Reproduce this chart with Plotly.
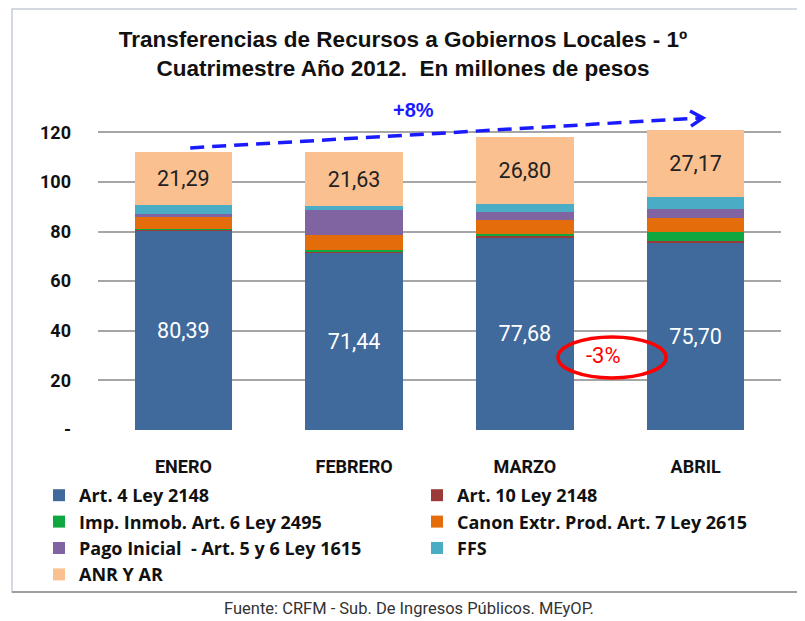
import plotly.graph_objects as go

# ---- data ----
months = ["ENERO", "FEBRERO", "MARZO", "ABRIL"]
art4 = [80.39, 71.44, 77.68, 75.70]
art10 = [0.3, 0.6, 0.7, 0.6]
imp_inmob = [0.5, 0.7, 0.5, 3.4]
canon = [4.7, 5.8, 5.8, 5.9]
pago_inicial = [1.2, 10.0, 3.1, 3.4]
ffs = [3.5, 1.7, 3.4, 4.8]
anr = [21.29, 21.63, 26.80, 27.17]

series_names = ["Art. 4 Ley 2148", "Art. 10 Ley 2148", "Imp. Inmob. Art. 6 Ley 2495",
                "Canon Extr. Prod. Art. 7 Ley 2615", "Pago Inicial  - Art. 5 y 6 Ley 1615",
                "FFS", "ANR Y AR"]
series_values = [art4, art10, imp_inmob, canon, pago_inicial, ffs, anr]
series_colors = ["#40699c", "#9b3b39", "#0fa840", "#e46c0a", "#8064a2", "#4bacc6", "#fac090"]
labelled = {0: "#ffffff", 6: "#222222"}

ytick_vals = [0, 20, 40, 60, 80, 100, 120]
ytick_text = ["-", "20", "40", "60", "80", "100", "120"]

# trend arrow (+8%) and ellipse (-3%) anchors, in axis units
trend_start = (0.04, 113.7)
trend_end = (3.03, 125.8)

SANS = "Roboto, Lato, sans-serif"
WIDE = "Open Sans, Noto Sans, sans-serif"
ARIAL = "Liberation Sans, Arial, sans-serif"

fig = go.Figure()
for i, (name, vals, col) in enumerate(zip(series_names, series_values, series_colors)):
    kw = {}
    if i in labelled:
        kw = dict(texttemplate="%{y:.2f}", textposition="inside", insidetextanchor="middle",
                  textangle=0, constraintext="none",
                  insidetextfont=dict(family=SANS, size=21.5, color=labelled[i]))
    fig.add_trace(go.Bar(x=months, y=vals, name=name, marker=dict(color=col, line=dict(width=0)),
                         hoverinfo="skip", **kw))

OFF = 8  # page body margin
W, H = 805 - OFF, 621 - OFF
L, R, T, B = 90, 24, 87, 191
plot_w = W - L - R
plot_h = H - T - B


def px_x(p):
    p -= OFF
    return (p - L) / plot_w


def px_y(p):
    p -= OFF
    return (H - B - p) / plot_h


shapes = [
    dict(type="rect", xref="paper", yref="paper", x0=px_x(12), x1=px_x(820), y0=px_y(592), y1=px_y(9),
         line=dict(color="#c5ccd8", width=1.5), layer="below"),
    dict(type="line", xref="paper", yref="paper", x0=px_x(12), x1=px_x(820), y0=px_y(592), y1=px_y(592),
         line=dict(color="#a0a0a0", width=2)),
    dict(type="line", xref="x", yref="y", x0=trend_start[0], y0=trend_start[1], x1=trend_end[0], y1=trend_end[1],
         line=dict(color="#1a1aff", width=3.5, dash="14px,8px")),
    dict(type="path", xref="x", yref="y",
         path=f"M 2.967,128.6 L {trend_end[0]+0.013},{trend_end[1]} L 2.973,122.5",
         line=dict(color="#1a1aff", width=3.5)),
    dict(type="circle", xref="x", yref="y", x0=2.194, x1=2.827, y0=21.0, y1=37.5,
         line=dict(color="#ff0000", width=3.5)),
]

annotations = [
    dict(text="+8%", x=1.35, y=128.8, xref="x", yref="y", showarrow=False,
         font=dict(family=ARIAL, size=20, color="#1a1aff", weight="bold")),
    dict(text="-3%", x=2.458, y=30.2, xref="x", yref="y", showarrow=False,
         font=dict(family=SANS, size=22, color="#ff0000")),
    dict(text="Fuente: CRFM - Sub. De Ingresos Públicos. MEyOP.", x=px_x(409), y=px_y(608),
         xref="paper", yref="paper", xanchor="center", yanchor="middle", showarrow=False,
         font=dict(family=SANS, size=16.5, color="#333333")),
]

fig.update_layout(
    width=W, height=H,
    margin=dict(l=L, r=R, t=T, b=B, autoexpand=False),
    paper_bgcolor="white", plot_bgcolor="white",
    barmode="stack", bargap=0.43,
    separators=",.",
    showlegend=True,
    title=dict(text="Transferencias de Recursos a Gobiernos Locales - 1º<br>Cuatrimestre Año 2012.\u00a0 En millones de pesos",
               x=(403 - OFF) / W, xanchor="center", y=1 - (47 - OFF) / H, yanchor="top", yref="container",
               font=dict(family=ARIAL, size=22.5, color="#111111", weight="bold")),
    legend=dict(orientation="h", x=px_x(39), xanchor="left", y=px_y(477), yanchor="top",
                traceorder="normal", entrywidth=333, itemclick=False,
                font=dict(family=WIDE, size=18, color="#111111", weight="bold"),
                bgcolor="rgba(0,0,0,0)"),
    xaxis=dict(showgrid=False, showline=False, ticks="", ticklabelstandoff=24,
               tickfont=dict(family=SANS, size=18, color="#111111", weight="bold")),
    yaxis=dict(range=[0, plot_h / 2.481], tickvals=ytick_vals, ticktext=ytick_text,
               showgrid=True, gridcolor="#a6a6a6", gridwidth=1.5, zeroline=False, showline=False,
               ticks="", ticklabelstandoff=26,
               tickfont=dict(family=SANS, size=18, color="#111111", weight="bold")),
    shapes=shapes,
    annotations=annotations,
)

fig.write_html("out.html")
